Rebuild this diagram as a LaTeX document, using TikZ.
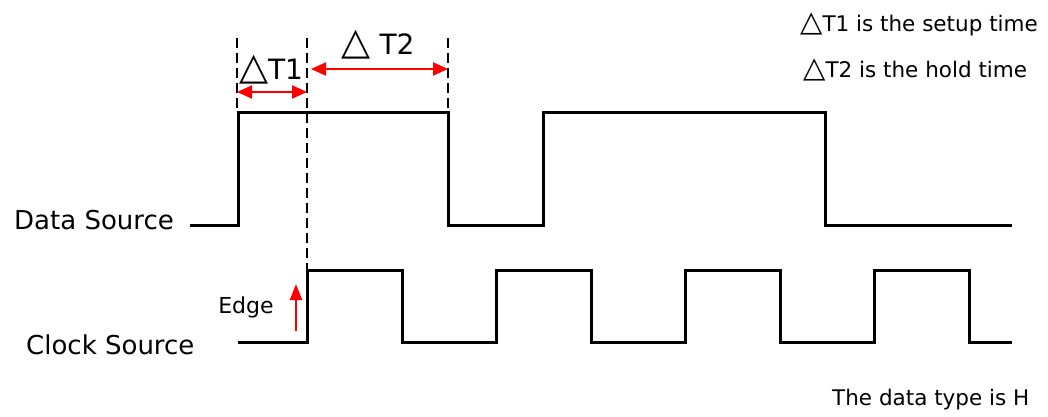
\documentclass[tikz,border=0pt]{standalone}
\usepackage{fontspec}
\setmainfont{DejaVu Sans}
\usetikzlibrary{arrows.meta}

\newcommand\tri{\scalebox{1.35}{△}}

\tikzset{
  wave/.style={line width=3pt, line join=miter},
  guide/.style={line width=2.2pt, dash pattern=on 10pt off 5pt},
  span/.style={red, line width=2pt, {Triangle[length=15pt,width=13pt]}-{Triangle[length=15pt,width=13pt]}},
  rise/.style={red, line width=2pt, -{Triangle[length=16pt,width=12pt]}},
  biglabel/.style={font=\fontsize{26}{30}\selectfont, inner sep=0pt},
  tlabel/.style={font=\fontsize{28}{32}\selectfont, inner sep=0pt},
  smalllabel/.style={font=\fontsize{22}{26}\selectfont, inner sep=0pt},
  notelabel/.style={font=\fontsize{21.5}{26}\selectfont, inner sep=0pt},
}

\begin{document}
\begin{tikzpicture}[x=1pt, y=-1pt]
  \useasboundingbox (0,0) rectangle (1048,416);

  % signal names
  \node[biglabel, anchor=west] (data) at (14,220) {Data Source};
  \node[biglabel, anchor=west] (clock) at (26,345) {Clock Source};

  % data waveform
  \draw[wave] (190,225) -- (238,225) -- (238,112) -- (448,112) -- (448,225)
    -- (543,225) -- (543,112) -- (825,112) -- (825,225) -- (1012,225);

  % clock waveform, period 189
  \draw[wave] (238,342) -- (307,342)
    \foreach \r in {307,496,685,874} {
      -- (\r,342) -- (\r,270) -- ({\r+95},270) -- ({\r+95},342)
    } -- (1012,342);

  % guide lines
  \coordinate (g1top) at (237,38);
  \coordinate (g1bot) at (237,112);
  \coordinate (g2top) at (307,38);
  \coordinate (g2bot) at (307,270);
  \coordinate (g3top) at (448,38);
  \coordinate (g3bot) at (448,112);
  \draw[guide] (g1top) -- (g1bot);
  \draw[guide] (g2top) -- (g2bot);
  \draw[guide] (g3top) -- (g3bot);

  % setup and hold spans
  \coordinate (t1l) at (237,92);
  \coordinate (t1r) at (307,92);
  \coordinate (t2l) at (311,69);
  \coordinate (t2r) at (448,69);
  \draw[span] (t1l) -- (t1r);
  \draw[span] (t2l) -- (t2r);
  \node[tlabel] (t1) at (271,70) {\tri T1};
  \node[tlabel] (t2) at (378,45) {\tri\ T2};

  % clock edge
  \coordinate (e0) at (296,331);
  \coordinate (e1) at (296,284);
  \draw[rise] (e0) -- (e1);
  \node[smalllabel] (edge) at (246,307) {Edge};

  % notes
  \node[notelabel, anchor=west] (n1) at (800,24) {\tri T1 is the setup time};
  \node[notelabel, anchor=west] (n2) at (803,70) {\tri T2 is the hold time};
  \node[notelabel, anchor=west] (n3) at (832,400) {The data type is H};
\end{tikzpicture}
\end{document}
